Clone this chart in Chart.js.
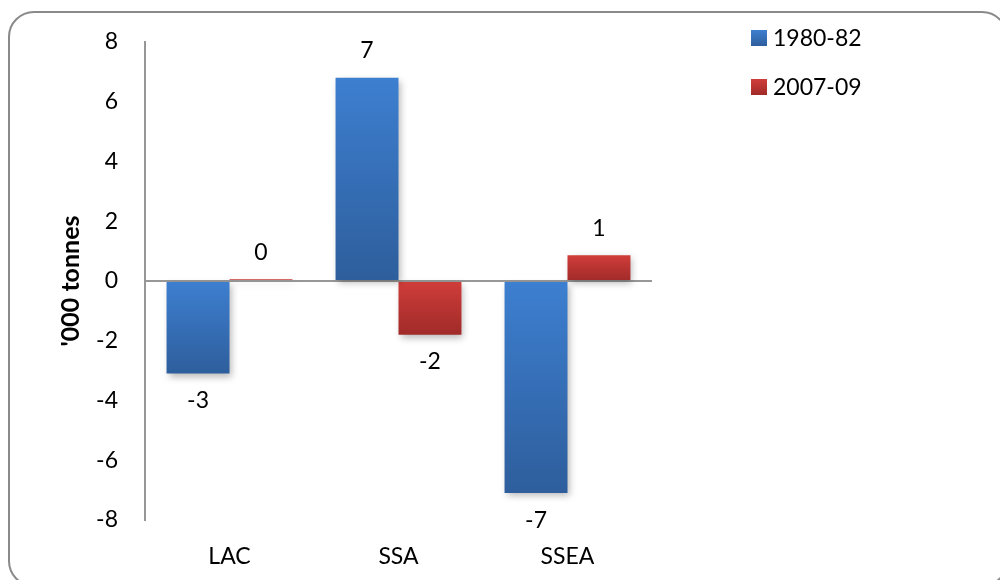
<!DOCTYPE html>
<html>
<head>
<meta charset="utf-8">
<script src="https://cdn.jsdelivr.net/npm/chart.js@4/dist/chart.umd.min.js"></script>
<style>
  html, body { margin: 0; padding: 0; background: #fff; overflow: hidden; }
  #wrap { position: relative; width: 1000px; height: 580px; }
  #frame {
    position: absolute; left: 8px; top: 11px; width: 1000px; height: 576px;
    border: 2px solid #8a8a8a; border-radius: 26px; box-sizing: border-box;
  }
  canvas { position: absolute; left: 0; top: 0; }
</style>
</head>
<body>
<div id="wrap">
  <div id="frame"></div>
  <canvas id="chart" width="1000" height="580"></canvas>
</div>
<script>
// regions and the two periods
const regions = ["LAC", "SSA", "SSEA"];
const period1Label = "1980-82";
const period2Label = "2007-09";
const period1Values = [-3.1, 6.8, -7.1];
const period2Values = [0.06, -1.8, 0.86];

// y axis ticks
const yMin = -8;
const yMax = 8;
const yStep = 2;

const FONT = "Lato, 'Open Sans', sans-serif";

// gradient spanning one bar, light at the top and darker at the bottom
function barGradient(light, dark) {
  return (ctx) => {
    const chart = ctx.chart;
    const y = chart.scales.y;
    if (!y || ctx.raw === undefined) return light;
    const top = y.getPixelForValue(Math.max(ctx.raw, 0));
    const bottom = y.getPixelForValue(Math.min(ctx.raw, 0));
    if (!isFinite(top) || !isFinite(bottom) || top === bottom) return light;
    const g = chart.ctx.createLinearGradient(0, top, 0, bottom);
    g.addColorStop(0, light);
    g.addColorStop(1, dark);
    return g;
  };
}

// soft drop shadow under the bars
const barShadow = {
  id: "barShadow",
  beforeDatasetsDraw(chart) {
    const c = chart.ctx;
    c.save();
    c.shadowColor = "rgba(0,0,0,0.28)";
    c.shadowBlur = 7;
    c.shadowOffsetX = 2;
    c.shadowOffsetY = 3;
  },
  afterDatasetsDraw(chart) {
    chart.ctx.restore();
  },
};

// rounded value printed just past the end of each bar
const valueLabels = {
  id: "valueLabels",
  afterDatasetsDraw(chart) {
    const c = chart.ctx;
    c.save();
    c.font = "23px " + FONT;
    c.fillStyle = "#000";
    c.textAlign = "center";
    c.textBaseline = "middle";
    chart.data.datasets.forEach((ds, di) => {
      chart.getDatasetMeta(di).data.forEach((bar, i) => {
        const v = ds.data[i];
        const y = v >= 0 ? Math.min(bar.y, bar.base) - 27 : Math.max(bar.y, bar.base) + 27;
        c.fillText(String(Math.round(v)), bar.x, y);
      });
    });
    c.restore();
  },
};

// vertical legend in the top right corner
const sideLegend = {
  id: "sideLegend",
  afterDraw(chart) {
    const c = chart.ctx;
    c.save();
    c.font = "23px " + FONT;
    c.textBaseline = "middle";
    c.textAlign = "left";
    chart.data.datasets.forEach((ds, i) => {
      const top = 30 + i * 49;
      const g = c.createLinearGradient(0, top, 0, top + 16);
      g.addColorStop(0, ds.legendColors[0]);
      g.addColorStop(1, ds.legendColors[1]);
      c.fillStyle = g;
      c.fillRect(751, top, 16, 16);
      c.fillStyle = "#000";
      c.fillText(ds.label, 773, top + 9);
    });
    c.restore();
  },
};

new Chart(document.getElementById("chart").getContext("2d"), {
  type: "bar",
  data: {
    labels: regions,
    datasets: [
      {
        label: period1Label,
        data: period1Values,
        backgroundColor: barGradient("#3d7fd0", "#2e5e9c"),
        legendColors: ["#3d7fd0", "#2e5e9c"],
      },
      {
        label: period2Label,
        data: period2Values,
        backgroundColor: barGradient("#d03d3a", "#a02b29"),
        legendColors: ["#d03d3a", "#a02b29"],
      },
    ],
  },
  options: {
    responsive: false,
    animation: false,
    categoryPercentage: 0.745,
    barPercentage: 1.0,
    layout: { padding: { top: 42, right: 348, bottom: 0, left: 0 } },
    plugins: {
      legend: { display: false },
      tooltip: { enabled: false },
    },
    scales: {
      x: {
        afterFit(scale) { scale.height = 60; },
        grid: { display: false },
        border: { display: false },
        ticks: { color: "#000", padding: 15, font: { family: FONT, size: 23 } },
      },
      y: {
        min: yMin,
        max: yMax,
        afterFit(scale) { scale.width = 145; },
        ticks: {
          stepSize: yStep,
          color: "#000",
          padding: 27,
          font: { family: FONT, size: 23 },
        },
        grid: {
          drawTicks: false,
          lineWidth: 2,
          color: (ctx) => (ctx.tick && ctx.tick.value === 0 ? "#979797" : "rgba(0,0,0,0)"),
        },
        border: { color: "#979797", width: 2 },
        title: {
          display: true,
          text: "'000 tonnes",
          color: "#000",
          font: { family: FONT, size: 25, weight: "bold" },
          padding: { top: 56, bottom: 0 },
        },
      },
    },
  },
  plugins: [barShadow, valueLabels, sideLegend],
});
</script>
</body>
</html>
